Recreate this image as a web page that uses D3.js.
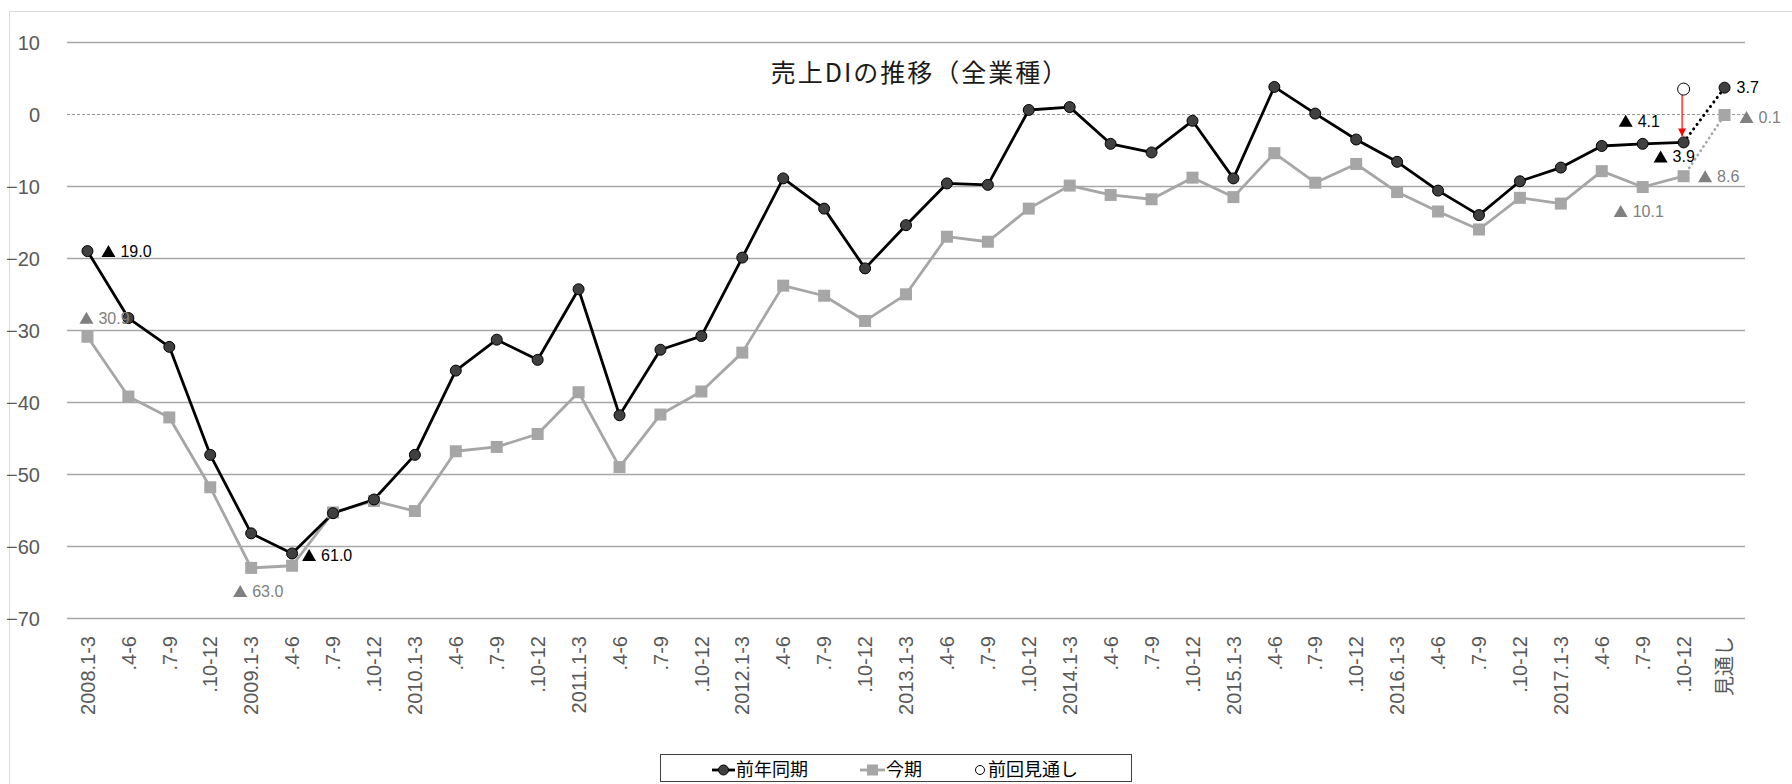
<!DOCTYPE html>
<html><head><meta charset="utf-8">
<script src="https://cdn.jsdelivr.net/npm/d3@7/dist/d3.min.js"></script>
<style>
html,body{margin:0;padding:0;background:#fff;}
svg{display:block;}
</style></head>
<body>
<svg id="chart" width="1792" height="784"></svg>
<script>
// ---- data ----
const categories = [
 "2008.1-3",".4-6",".7-9",".10-12",
 "2009.1-3",".4-6 ",".7-9 ",".10-12 ",
 "2010.1-3",".4-6  ",".7-9  ",".10-12  ",
 "2011.1-3",".4-6   ",".7-9   ",".10-12   ",
 "2012.1-3",".4-6    ",".7-9    ",".10-12    ",
 "2013.1-3",".4-6     ",".7-9     ",".10-12     ",
 "2014.1-3",".4-6      ",".7-9      ",".10-12      ",
 "2015.1-3",".4-6       ",".7-9       ",".10-12       ",
 "2016.1-3",".4-6        ",".7-9        ",".10-12        ",
 "2017.1-3",".4-6         ",".7-9         ",".10-12         ",
 "見通し"
];
const prevYear = [
 -19.0,-28.3,-32.3,-47.3,
 -58.2,-61.0,-55.4,-53.5,
 -47.3,-35.6,-31.3,-34.1,
 -24.3,-41.8,-32.7,-30.8,
 -19.9,-8.9,-13.1,-21.4,
 -15.4,-9.6,-9.8,0.6,
 1.0,-4.1,-5.3,-0.9,
 -8.9,3.8,0.1,-3.5,
 -6.6,-10.6,-14.0,-9.3,
 -7.4,-4.4,-4.1,-3.9,
 3.7
];
const thisTerm = [
 -30.9,-39.2,-42.1,-51.8,
 -63.0,-62.7,-55.3,-53.7,
 -55.1,-46.8,-46.2,-44.4,
 -38.6,-49.0,-41.7,-38.5,
 -33.1,-23.8,-25.2,-28.7,
 -25.0,-17.0,-17.7,-13.1,
 -9.9,-11.2,-11.8,-8.8,
 -11.5,-5.4,-9.5,-6.9,
 -10.8,-13.5,-16.0,-11.6,
 -12.4,-7.9,-10.1,-8.6,
 -0.1
];
const prevForecastIndex = 39;
const prevForecastValue = 3.5;
const yTicks = [10,0,-10,-20,-30,-40,-50,-60,-70];
const seriesNames = ["前年同期","今期","前回見通し"];
const title = "売上DIの推移（全業種）";
// labelled points: series, index
const labelPoints = [
 {s:"prev", i:0}, {s:"this", i:0},
 {s:"prev", i:5}, {s:"this", i:4},
 {s:"prev", i:38}, {s:"prev", i:39}, {s:"prev", i:40},
 {s:"this", i:38}, {s:"this", i:39}, {s:"this", i:40}
];
// label offsets (px) for the labelled points, same order
const labelOffsets = [[21,0],[-1,-19],[17,1.5],[-11,23],[-17,-23],[-23,14],[12,0],[-22,24],[21.5,0],[22,2]];

// ---- chart ----
const svg = d3.select("#chart");
const x = d3.scaleBand().domain(categories).range([67, 1745]).padding(0);
const y = d3.scaleLinear().domain([-70, 10]).range([618.3, 42.3]);
const cx = i => x(categories[i]) + x.bandwidth()/2;

// outer chart border
svg.append("rect").attr("x",9.5).attr("y",11.5).attr("width",1800).attr("height",800)
  .attr("fill","none").attr("stroke","#d9d9d9").attr("stroke-width",1);

// gridlines
svg.append("g").selectAll("line").data(yTicks).join("line")
  .attr("x1",67).attr("x2",1745)
  .attr("y1",d=>Math.round(y(d))+0.5).attr("y2",d=>Math.round(y(d))+0.5)
  .attr("stroke",d=>d===0?"#7f7f7f":"#a6a6a6")
  .attr("stroke-width",d=>d===0?0.8:1.3)
  .attr("stroke-dasharray",d=>d===0?"3,2":null);

// y axis labels
const yAxis = d3.axisLeft(y).tickValues(yTicks).tickSize(0).tickPadding(0).tickFormat(d3.format("d"));
const gy = svg.append("g").attr("transform","translate(40,0)").call(yAxis);
gy.select(".domain").remove();
gy.selectAll("text").attr("font-family","'Liberation Sans', Arial, sans-serif")
  .attr("font-size",20).attr("fill","#595959").attr("dy","0.36em");

// x axis labels
const xAxis = d3.axisBottom(x).tickSize(0).tickPadding(0).tickFormat(d=>d.trim());
const gx = svg.append("g").attr("transform","translate(0,636)").call(xAxis);
gx.select(".domain").remove();
gx.selectAll("text")
  .attr("font-family","'Liberation Sans', Arial, 'Noto Sans CJK JP', sans-serif")
  .attr("font-size",20).attr("fill","#595959")
  .attr("transform","rotate(-90)")
  .attr("text-anchor","end").attr("x",0).attr("y",0).attr("dy","0.36em");

// title
svg.append("text").attr("x",920).attr("y",71).attr("text-anchor","middle")
  .attr("dominant-baseline","central")
  .attr("font-family","'Noto Sans CJK JP', sans-serif").attr("font-size",25)
  .attr("letter-spacing","2px")
  .attr("fill","#1a1a1a").text(title);

const line = d3.line().x(d=>cx(d.i)).y(d=>y(d.v));
const prevPts = prevYear.map((v,i)=>({v,i}));
const thisPts = thisTerm.map((v,i)=>({v,i}));
const last = categories.length-1;

// this-term (grey) line
svg.append("path").attr("d",line(thisPts.slice(0,last)))
  .attr("fill","none").attr("stroke","#a6a6a6").attr("stroke-width",2.8).attr("stroke-linejoin","round");
svg.append("path").attr("d",line(thisPts.slice(last-1)))
  .attr("fill","none").attr("stroke","#a6a6a6").attr("stroke-width",2.8)
  .attr("stroke-dasharray","0.1,5").attr("stroke-linecap","round");
// prev-year (black) line
svg.append("path").attr("d",line(prevPts.slice(0,last)))
  .attr("fill","none").attr("stroke","#000").attr("stroke-width",2.8).attr("stroke-linejoin","round");
svg.append("path").attr("d",line(prevPts.slice(last-1)))
  .attr("fill","none").attr("stroke","#000").attr("stroke-width",3)
  .attr("stroke-dasharray","0.1,5.5").attr("stroke-linecap","round");

// square markers
svg.append("g").selectAll("rect").data(thisPts).join("rect")
  .attr("x",d=>cx(d.i)-6).attr("y",d=>y(d.v)-6).attr("width",12).attr("height",12)
  .attr("fill","#a6a6a6");
// circle markers
svg.append("g").selectAll("circle").data(prevPts).join("circle")
  .attr("cx",d=>cx(d.i)).attr("cy",d=>y(d.v)).attr("r",5.5)
  .attr("fill","#404040").attr("stroke","#000").attr("stroke-width",1);

// previous forecast hollow circle + red arrow
svg.append("defs").append("marker").attr("id","arr").attr("viewBox","0 0 10 10")
  .attr("refX",10).attr("refY",5).attr("markerWidth",8).attr("markerHeight",8)
  .attr("markerUnits","userSpaceOnUse").attr("orient","auto")
  .append("path").attr("d","M0,0 L10,5 L0,10 z").attr("fill","#ff0000");
svg.append("line").attr("x1",cx(prevForecastIndex)-1.5).attr("x2",cx(prevForecastIndex)-1.5)
  .attr("y1",y(prevForecastValue)+6).attr("y2",y(prevYear[prevForecastIndex])-6)
  .attr("stroke","#ff0000").attr("stroke-width",1.2).attr("marker-end","url(#arr)");
svg.append("circle").attr("cx",cx(prevForecastIndex)).attr("cy",y(prevForecastValue)).attr("r",6)
  .attr("fill","#fff").attr("stroke","#000").attr("stroke-width",1);

// data labels
labelPoints.forEach((p,k)=>{
  const v = p.s==="prev" ? prevYear[p.i] : thisTerm[p.i];
  const [dx,dy] = labelOffsets[k];
  const col = p.s==="prev" ? "#000" : "#808080";
  const px = cx(p.i)+dx, py = y(v)+dy;
  const g = svg.append("g");
  if (v<0) {
    g.append("path").attr("d",`M${px-7},${py+6} L${px},${py-6} L${px+7},${py+6} Z`).attr("fill",col);
    g.append("text").attr("x",px+12).attr("y",py).attr("dy","0.36em")
      .attr("font-family","'Liberation Sans', Arial, sans-serif").attr("font-size",16)
      .attr("fill",col).text(Math.abs(v).toFixed(1));
  } else {
    g.append("text").attr("x",px).attr("y",py).attr("dy","0.36em")
      .attr("font-family","'Liberation Sans', Arial, sans-serif").attr("font-size",16)
      .attr("fill",col).text(Math.abs(v).toFixed(1));
  }
});

// legend
const lg = svg.append("g");
lg.append("rect").attr("x",660.5).attr("y",754.5).attr("width",471).attr("height",27)
  .attr("fill","#fff").attr("stroke","#404040").attr("stroke-width",1);
const ly = 770;
lg.append("line").attr("x1",712).attr("x2",735).attr("y1",ly).attr("y2",ly).attr("stroke","#000").attr("stroke-width",2.8);
lg.append("circle").attr("cx",723.5).attr("cy",ly).attr("r",5).attr("fill","#404040").attr("stroke","#000");
lg.append("line").attr("x1",860).attr("x2",885).attr("y1",ly).attr("y2",ly).attr("stroke","#a6a6a6").attr("stroke-width",2.8);
lg.append("rect").attr("x",867).attr("y",ly-5.5).attr("width",11).attr("height",11).attr("fill","#a6a6a6");
lg.append("circle").attr("cx",980).attr("cy",ly).attr("r",4.5).attr("fill","#fff").attr("stroke","#000");
const legendX = [736, 886, 988];
seriesNames.forEach((n,i)=>{
  lg.append("text").attr("x",legendX[i]).attr("y",ly).attr("dy","0.36em")
    .attr("font-family","'Noto Sans CJK JP', sans-serif").attr("font-size",18)
    .attr("fill","#000").text(n);
});
</script>
</body></html>
